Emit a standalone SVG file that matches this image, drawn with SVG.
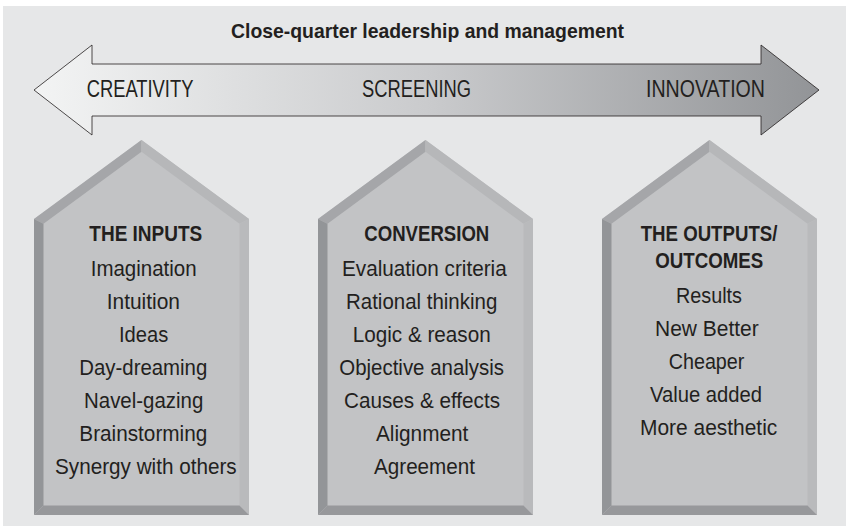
<svg xmlns="http://www.w3.org/2000/svg" xmlns:xlink="http://www.w3.org/1999/xlink" width="846" height="527" viewBox="0 0 846 527">
<style>
.t{font-family:"Liberation Sans",Arial,sans-serif;fill:#231f20;}
.h{font-size:22.5px;font-weight:bold;}
.i{font-size:22px;}
.a{font-size:23px;}
.ti{font-size:20.5px;font-weight:bold;}
</style>
<defs>
<linearGradient id="ag" gradientUnits="userSpaceOnUse" x1="34" y1="0" x2="819" y2="0">
<stop offset="0" stop-color="#f3f4f4"/>
<stop offset="0.5" stop-color="#cacbcd"/>
<stop offset="1" stop-color="#929497"/>
</linearGradient>
<g id="house">
<polygon points="0,219 107.5,140 215,219 215,515 0,515" fill="#c2c3c5"/>
<polygon points="0,219 107.5,140 107.5,151.8 9.5,223.8" fill="#a5a6a9"/>
<polygon points="107.5,140 215,219 205.5,223.8 107.5,151.8" fill="#b6b7b9"/>
<polygon points="215,219 215,515 205.5,505.5 205.5,223.8" fill="#b9babc"/>
<polygon points="215,515 0,515 9.5,505.5 205.5,505.5" fill="#97989b"/>
<polygon points="0,515 0,219 9.5,223.8 9.5,505.5" fill="#939598"/>
</g>
</defs>
<rect x="3" y="6" width="843" height="520" fill="#e6e7e8"/>
<g id="title">
<text class="t ti" x="231" y="38.3" textLength="393" lengthAdjust="spacingAndGlyphs">Close-quarter leadership and management</text>
</g>
<g id="connectors">
<path d="M34,90 L92,45 L92,64 L761,64 L761,45 L819,90 L761,135 L761,116 L92,116 L92,135 Z" fill="url(#ag)" stroke="#231f20" stroke-width="0.8" stroke-linejoin="miter"/>
<text class="t a" x="86.7" y="96.7" textLength="106.7" lengthAdjust="spacingAndGlyphs">CREATIVITY</text>
<text class="t a" x="362" y="96.7" textLength="109" lengthAdjust="spacingAndGlyphs">SCREENING</text>
<text class="t a" x="646" y="96.7" textLength="119" lengthAdjust="spacingAndGlyphs">INNOVATION</text>
</g>
<g id="inputs">
<use xlink:href="#house" href="#house" x="34" y="0"/>
<text class="t h" x="89.3" y="240.7" textLength="113" lengthAdjust="spacingAndGlyphs">THE INPUTS</text>
<text class="t i" x="90.7" y="276" textLength="106" lengthAdjust="spacingAndGlyphs">Imagination</text>
<text class="t i" x="106.7" y="309" textLength="73.3" lengthAdjust="spacingAndGlyphs">Intuition</text>
<text class="t i" x="119" y="342" textLength="49.3" lengthAdjust="spacingAndGlyphs">Ideas</text>
<text class="t i" x="79.3" y="375" textLength="128" lengthAdjust="spacingAndGlyphs">Day-dreaming</text>
<text class="t i" x="84" y="408" textLength="119.3" lengthAdjust="spacingAndGlyphs">Navel-gazing</text>
<text class="t i" x="79.3" y="441" textLength="128" lengthAdjust="spacingAndGlyphs">Brainstorming</text>
<text class="t i" x="55" y="474" textLength="181.7" lengthAdjust="spacingAndGlyphs">Synergy with others</text>
</g>
<g id="conversion">
<use xlink:href="#house" href="#house" x="318" y="0"/>
<text class="t h" x="364.3" y="240.7" textLength="125" lengthAdjust="spacingAndGlyphs">CONVERSION</text>
<text class="t i" x="342" y="276" textLength="164.7" lengthAdjust="spacingAndGlyphs">Evaluation criteria</text>
<text class="t i" x="346" y="309" textLength="151.3" lengthAdjust="spacingAndGlyphs">Rational thinking</text>
<text class="t i" x="352.7" y="342" textLength="138" lengthAdjust="spacingAndGlyphs">Logic &amp; reason</text>
<text class="t i" x="339.3" y="375" textLength="164.7" lengthAdjust="spacingAndGlyphs">Objective analysis</text>
<text class="t i" x="344" y="408" textLength="156" lengthAdjust="spacingAndGlyphs">Causes &amp; effects</text>
<text class="t i" x="376" y="441" textLength="92.3" lengthAdjust="spacingAndGlyphs">Alignment</text>
<text class="t i" x="374" y="474" textLength="101" lengthAdjust="spacingAndGlyphs">Agreement</text>
</g>
<g id="outputs">
<use xlink:href="#house" href="#house" x="602" y="0"/>
<text class="t h" x="640.7" y="240.7" textLength="136.7" lengthAdjust="spacingAndGlyphs">THE OUTPUTS/</text>
<text class="t h" x="655.3" y="267.7" textLength="108" lengthAdjust="spacingAndGlyphs">OUTCOMES</text>
<text class="t i" x="676" y="302.7" textLength="66" lengthAdjust="spacingAndGlyphs">Results</text>
<text class="t i" x="655" y="335.7" textLength="103.7" lengthAdjust="spacingAndGlyphs">New Better</text>
<text class="t i" x="668.7" y="368.7" textLength="75.7" lengthAdjust="spacingAndGlyphs">Cheaper</text>
<text class="t i" x="650" y="401.7" textLength="112" lengthAdjust="spacingAndGlyphs">Value added</text>
<text class="t i" x="640" y="434.7" textLength="137.3" lengthAdjust="spacingAndGlyphs">More aesthetic</text>
</g>
</svg>
